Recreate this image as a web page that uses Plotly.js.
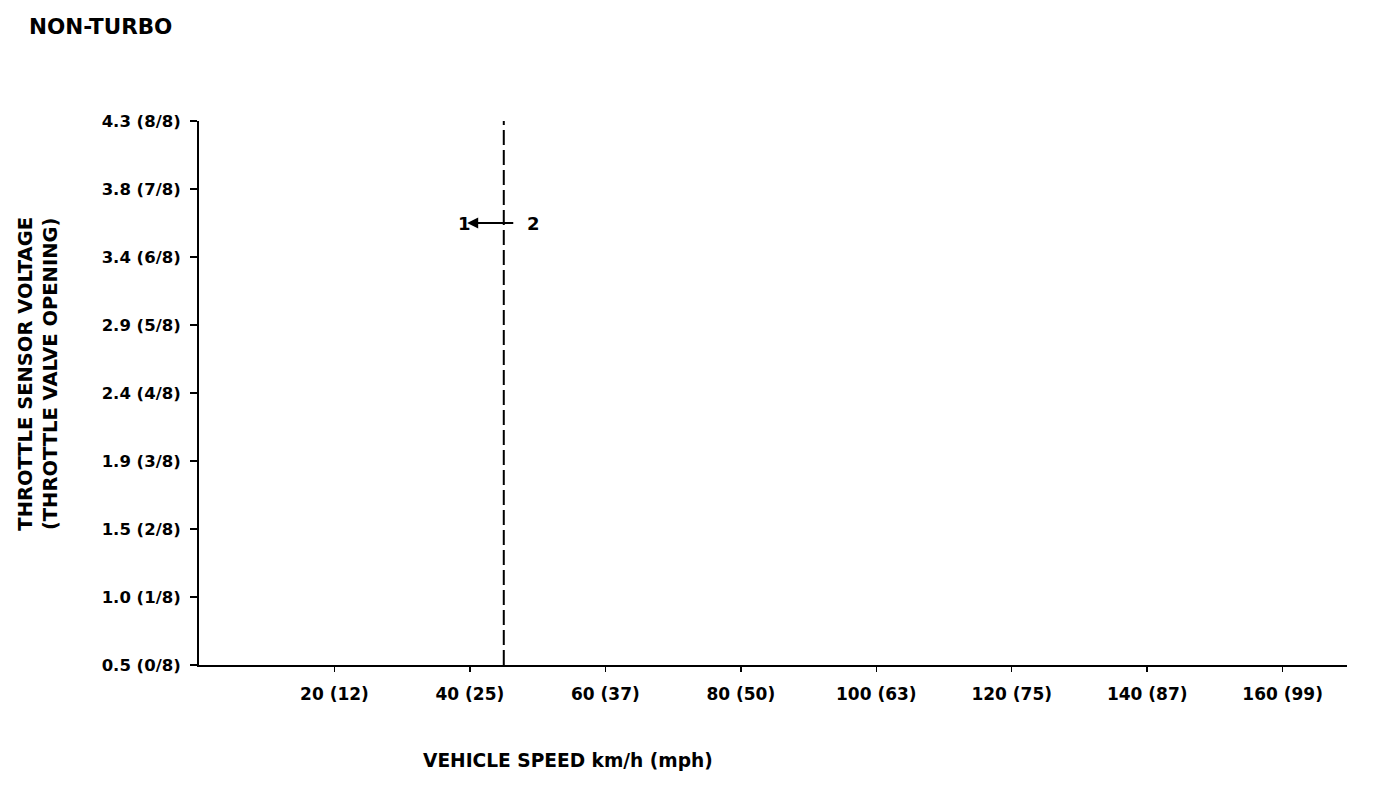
<!DOCTYPE html>
<html>
<head>
<meta charset="utf-8">
<script src="https://cdn.plot.ly/plotly-3.0.1.min.js"></script>
<style>html,body{margin:0;padding:0;background:#fff;}#chart{width:1376px;height:798px;}</style>
</head>
<body>
<div id="chart"></div>
<script>
const speedTicks = [20, 40, 60, 80, 100, 120, 140, 160];
const speedLabels = ["20 (12)", "40 (25)", "60 (37)", "80 (50)", "100 (63)", "120 (75)", "140 (87)", "160 (99)"];
const openingTicks = [0, 1, 2, 3, 4, 5, 6, 7, 8];
const voltageLabels = ["0.5 (0/8)", "1.0 (1/8)", "1.5 (2/8)", "1.9 (3/8)", "2.4 (4/8)", "2.9 (5/8)", "3.4 (6/8)", "3.8 (7/8)", "4.3 (8/8)"];
const boundarySpeed = 45;
const boundaryOpening = [0, 8];
const arrowOpening = 6.5;
const arrowFrom = 46.4;
const arrowTo = 40.8;
const label1Speed = 39.2;
const label2Speed = 49.4;

const F = "DejaVu Sans, Liberation Sans, Arial, sans-serif";
const tickFontX = {family: F, size: 17, color: "#000", weight: "bold"};
const tickFontY = {family: F, size: 16.5, color: "#000", weight: "bold"};
const headFont = {family: F, size: 21.5, color: "#000", weight: "bold"};
const titleFont = {family: F, size: 19.5, color: "#000", weight: "bold"};
const xTitleFont = {family: F, size: 18.6, color: "#000", weight: "bold"};
const numFont = {family: F, size: 18, color: "#000", weight: "bold"};

const traces = [
  {x: [boundarySpeed, boundarySpeed], y: boundaryOpening, mode: "lines",
   line: {color: "#000", width: 2, dash: "15px,5px"}, hoverinfo: "skip", showlegend: false},
  {x: [arrowFrom, arrowTo], y: [arrowOpening, arrowOpening], mode: "lines",
   line: {color: "#000", width: 2}, hoverinfo: "skip", showlegend: false}
];

const layout = {
  width: 1376, height: 798,
  margin: {l: 199, r: 29, t: 121, b: 133},
  paper_bgcolor: "#fff", plot_bgcolor: "#fff",
  showlegend: false,
  xaxis: {
    range: [0, 169.5], tickmode: "array", tickvals: speedTicks, ticktext: speedLabels,
    ticks: "outside", ticklen: 5, tickwidth: 1.5, tickcolor: "#000", ticklabelstandoff: 8,
    showline: true, linecolor: "#000", linewidth: 2, showgrid: false, zeroline: false,
    tickfont: tickFontX, fixedrange: true
  },
  yaxis: {
    range: [0, 8], tickmode: "array", tickvals: openingTicks, ticktext: voltageLabels,
    ticks: "outside", ticklen: 7, tickwidth: 1.5, tickcolor: "#000", ticklabelstandoff: 6,
    showline: true, linecolor: "#000", linewidth: 2, showgrid: false, zeroline: false,
    tickfont: tickFontY, fixedrange: true
  },
  annotations: [
    {text: "NON-TURBO", xref: "paper", yref: "paper", x: -0.150, y: 1.1728, xanchor: "left", yanchor: "middle",
     showarrow: false, font: headFont},
    {text: "VEHICLE SPEED km/h (mph)", xref: "paper", yref: "paper", x: 0.321, y: -0.1755,
     xanchor: "center", yanchor: "middle", showarrow: false, font: xTitleFont},
    {text: "THROTTLE SENSOR VOLTAGE<br>(THROTTLE VALVE OPENING)", xref: "paper", yref: "paper",
     x: -0.1405, y: 0.535, xanchor: "center", yanchor: "middle", textangle: -90, showarrow: false,
     font: titleFont, align: "center"},
    {x: arrowTo - 1.2, y: arrowOpening, ax: arrowTo + 1.5, ay: arrowOpening, axref: "x", ayref: "y",
     xref: "x", yref: "y", showarrow: true, arrowhead: 2, arrowsize: 1.1, arrowwidth: 2, arrowcolor: "#000", text: ""},
    {text: "1", x: label1Speed, y: arrowOpening, xref: "x", yref: "y", showarrow: false, font: numFont},
    {text: "2", x: label2Speed, y: arrowOpening, xref: "x", yref: "y", showarrow: false, font: numFont}
  ]
};

Plotly.newPlot("chart", traces, layout, {displayModeBar: false, staticPlot: true});
</script>
</body>
</html>
